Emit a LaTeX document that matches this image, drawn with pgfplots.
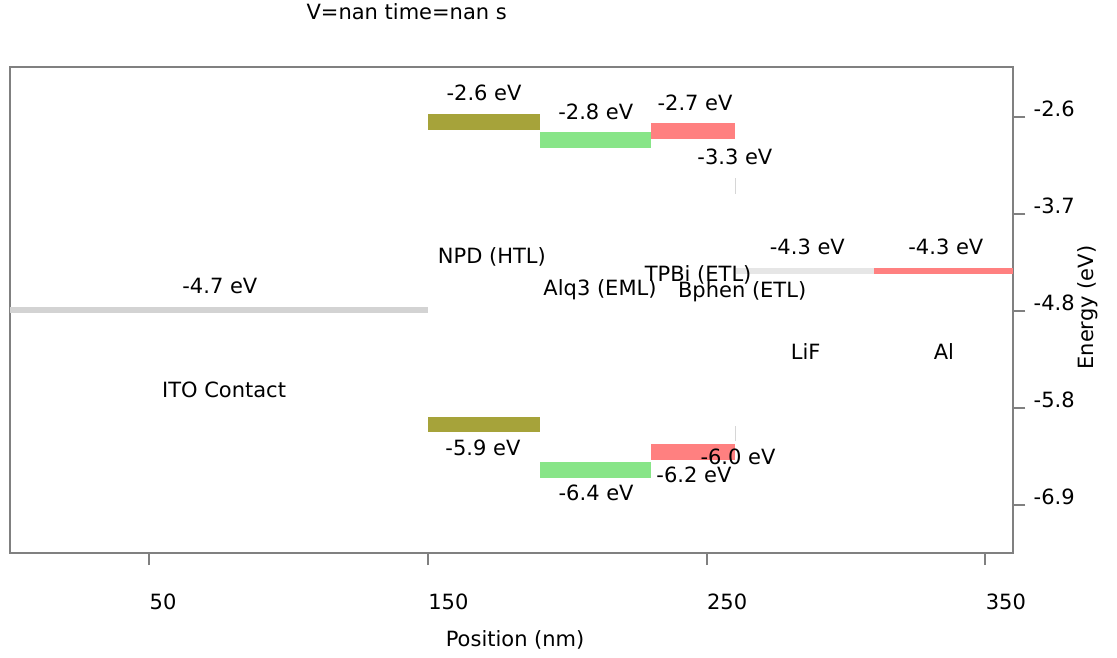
\documentclass[border=0pt]{standalone}
\usepackage{pgfplots}
\pgfplotsset{compat=1.18}
\usepackage{fontspec}
\setmainfont{DejaVu Sans}
\definecolor{npd}{HTML}{A6A33A}
\definecolor{alq}{HTML}{88E588}
\definecolor{tpbi}{HTML}{FF8080}
\definecolor{ito}{HTML}{D3D3D3}
\definecolor{bph}{HTML}{D6D6D6}
\definecolor{lif}{HTML}{E6E6E6}
\definecolor{framec}{HTML}{808080}
\begin{document}
\begin{tikzpicture}[font=\fontsize{12.6pt}{14.5pt}\selectfont]
\begin{axis}[name=ax, scale only axis, width=602pt, height=291.6pt,
  xmin=0, xmax=360, ymin=-7.389, ymax=-2.087,
  axis line style={framec, line width=1.2pt},
  tick style={framec, line width=1.2pt},
  tick align=outside, major tick length=7.2pt,
  xtick pos=left, ytick pos=right, yticklabel pos=right,
  xtick={50,150,250,350}, xticklabels={50,150,250,350},
  ytick={-2.629,-3.688,-4.747,-5.806,-6.865},
  yticklabels={-2.6,-3.7,-4.8,-5.8,-6.9},
  xticklabel style={anchor=base west, xshift=-3.33pt, yshift=-26.4pt},
  yticklabel style={anchor=base west, xshift=1.47pt},
  title={V=nan time=nan s},
  title style={at={(axis description cs:0.3954,1.0933)}, anchor=center},
  xlabel={Position (nm)},
  xlabel style={at={(axis description cs:0.5034,-0.179)}, anchor=center},
  ylabel={Energy (eV)},
  ylabel style={at={(axis description cs:1.0744,0.505)}, anchor=center},
]
% ITO contact
\addplot[draw=none, fill=ito] coordinates {(0,-4.7) (150,-4.7) (150,-4.7655) (0,-4.7655)} --cycle;
% NPD (HTL)
\addplot[draw=none, fill=npd] coordinates {(150,-2.6) (190,-2.6) (190,-2.7713) (150,-2.7713)} --cycle;
\addplot[draw=none, fill=npd] coordinates {(150,-5.9) (190,-5.9) (190,-6.0713) (150,-6.0713)} --cycle;
% Alq3 (EML)
\addplot[draw=none, fill=alq] coordinates {(190,-2.8) (230,-2.8) (230,-2.9713) (190,-2.9713)} --cycle;
\addplot[draw=none, fill=alq] coordinates {(190,-6.4) (230,-6.4) (230,-6.5713) (190,-6.5713)} --cycle;
% TPBi (ETL)
\addplot[draw=none, fill=tpbi] coordinates {(230,-2.7) (260,-2.7) (260,-2.8713) (230,-2.8713)} --cycle;
\addplot[draw=none, fill=tpbi] coordinates {(230,-6.2) (260,-6.2) (260,-6.3713) (230,-6.3713)} --cycle;
% Bphen (ETL)
\addplot[draw=none, fill=bph] coordinates {(260,-3.3) (260.5,-3.3) (260.5,-3.4713) (260,-3.4713)} --cycle;
\addplot[draw=none, fill=bph] coordinates {(260,-6.0) (260.5,-6.0) (260.5,-6.1713) (260,-6.1713)} --cycle;
% LiF
\addplot[draw=none, fill=lif] coordinates {(260.5,-4.28) (310,-4.28) (310,-4.3455) (260.5,-4.3455)} --cycle;
% Al
\addplot[draw=none, fill=tpbi] coordinates {(310,-4.28) (360,-4.28) (360,-4.3455) (310,-4.3455)} --cycle;

% energy labels
\node at (axis cs:75.3,-4.476) {-4.7 eV};
\node at (axis cs:170.1,-2.371) {-2.6 eV};
\node at (axis cs:210.2,-2.575) {-2.8 eV};
\node at (axis cs:245.8,-2.477) {-2.7 eV};
\node at (axis cs:260.1,-3.072) {-3.3 eV};
\node at (axis cs:169.7,-6.247) {-5.9 eV};
\node at (axis cs:210.3,-6.738) {-6.4 eV};
\node at (axis cs:245.4,-6.538) {-6.2 eV};
\node at (axis cs:261.2,-6.338) {-6.0 eV};
\node at (axis cs:286.1,-4.048) {-4.3 eV};
\node at (axis cs:335.8,-4.048) {-4.3 eV};
% layer names
\node at (axis cs:76.8,-5.611) {ITO Contact};
\node at (axis cs:172.9,-4.163) {NPD (HTL)};
\node at (axis cs:211.7,-4.520) {Alq3 (EML)};
\node at (axis cs:246.9,-4.356) {TPBi (ETL)};
\node at (axis cs:262.7,-4.542) {Bphen (ETL)};
\node at (axis cs:285.5,-5.193) {LiF};
\node at (axis cs:335.1,-5.193) {Al};
\end{axis}
\pgfresetboundingbox
\path[use as bounding box] (ax.south west) ++(-6pt,-62.4pt) rectangle ++(670.2pt,394.2pt);
\end{tikzpicture}
\end{document}
